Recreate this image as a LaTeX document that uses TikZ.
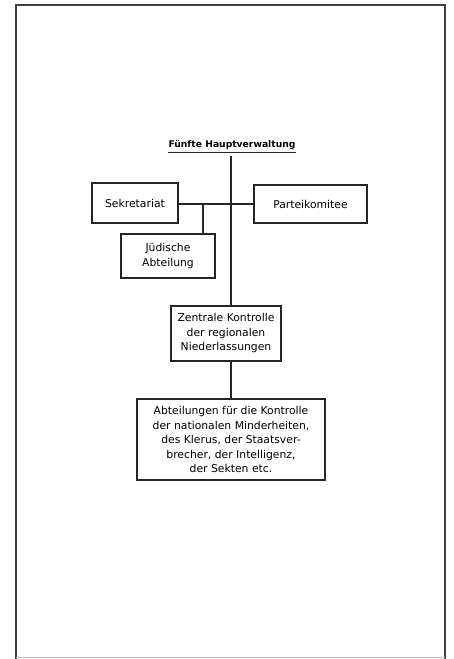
\documentclass[tikz,border=0pt]{standalone}
\usepackage{fontspec}
\setmainfont{DejaVu Sans}
\usetikzlibrary{positioning}

\tikzset{
  box/.style={draw=black!85, line width=1.3pt, align=center, inner sep=0pt,
    font=\fontsize{10.8}{14.5}\selectfont},
  link/.style={draw=black!85, line width=1.3pt}
}

\begin{document}
\begin{tikzpicture}[x=1pt, y=1pt]
    \useasboundingbox (0,0) rectangle (454,659);
    % frame
    \draw [black!75, line width=1.6pt] (16,0)--(16,654)--(445,654)--(445,0);
    \draw [black!25, line width=0.6pt] (16,1.5)--(445,1.5);
    \node (titel) at (232,514) [font=\bfseries\fontsize{9.2}{11}\selectfont, inner sep=0pt] {Fünfte Hauptverwaltung};
    \draw [link] ([yshift=-2.5pt]titel.south west)--([yshift=-2.5pt]titel.south east);
    \node (sekr) at (135,456) [box, minimum width=86, minimum height=40] {Sekretariat};
    \node (partei) at (310.5,455) [box, minimum width=113, minimum height=38] {Parteikomitee};
    \node (juden) at (168,403) [box, minimum width=94, minimum height=44] {Jüdische\\Abteilung};
    \node (zentrale) at (226,325.5) [box, minimum width=110, minimum height=55] {Zentrale Kontrolle\\der regionalen\\Niederlassungen};
    \node (abt) at (231,219.5) [box, minimum width=188, minimum height=81] {Abteilungen für die Kontrolle\\der nationalen Minderheiten,\\des Klerus, der Staatsver-\\brecher, der Intelligenz,\\der Sekten etc.};
    \coordinate (knick) at (203,455);
    \coordinate (stamm) at (231,503);
    \draw [link] (stamm)--(stamm |- zentrale.north);
    \draw [link] (sekr.east |- knick)--(partei.west |- knick);
    \draw [link] (knick)--(knick |- juden.north);
    \draw [link] (zentrale.south -| stamm)--(abt.north);
\end{tikzpicture}
\end{document}
